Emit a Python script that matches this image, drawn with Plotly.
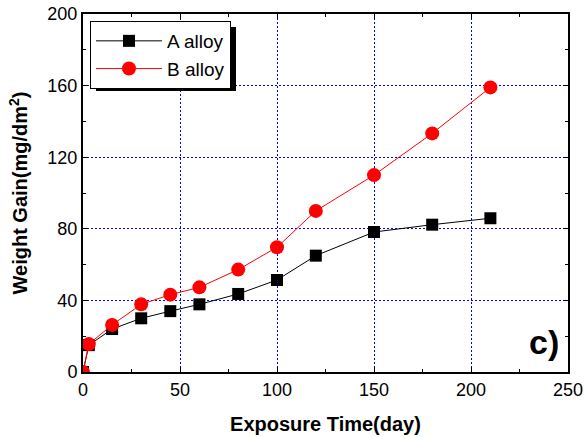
import plotly.graph_objects as go

days = [0, 3, 15, 30, 45, 60, 80, 100, 120, 150, 180, 210]
a_alloy = [0, 15, 24, 30, 34, 37.8, 43.6, 51.4, 65, 78.2, 82.3, 85.9]
b_alloy = [0, 15.6, 26.3, 37.8, 43.2, 47.3, 57.2, 69.7, 90, 110, 133.3, 159]

x_ticks = [0, 50, 100, 150, 200, 250]
y_ticks = [0, 40, 80, 120, 160, 200]

FONT = "Liberation Sans, Arial"

fig = go.Figure()
fig.add_trace(go.Scatter(x=days, y=a_alloy, mode="lines+markers", name="A alloy",
                         line=dict(color="black", width=1),
                         marker=dict(symbol="square", size=12, color="black")))
fig.add_trace(go.Scatter(x=days, y=b_alloy, mode="lines+markers", name="B alloy",
                         line=dict(color="red", width=1),
                         marker=dict(symbol="circle", size=14, color="red")))

axis_common = dict(showline=True, linecolor="black", linewidth=2, mirror="ticks",
                   ticks="inside", ticklen=5, tickcolor="black", tickwidth=1,
                   showgrid=True, gridcolor="#0000ff", griddash="2px,2px", gridwidth=1,
                   zeroline=False, automargin=False,
                   tickfont=dict(family=FONT, size=18, color="black"))

fig.update_xaxes(range=[0, 250], tickvals=x_ticks,
                 minor=dict(tickvals=[25, 75, 125, 175, 225], ticks="inside", ticklen=3,
                            tickcolor="black", showgrid=False),
                 title=dict(text="<b>Exposure Time(day)</b>", standoff=18,
                            font=dict(family=FONT, size=20, color="black")),
                 **axis_common)
fig.update_yaxes(range=[0, 200], tickvals=y_ticks,
                 minor=dict(tickvals=[20, 60, 100, 140, 180], ticks="inside", ticklen=3,
                            tickcolor="black", showgrid=False),
                 title=dict(text="<b>Weight Gain(mg/dm<sup>2</sup>)</b>", standoff=14,
                            font=dict(family=FONT, size=20, color="black")),
                 **axis_common)

# legend shadow
fig.add_shape(type="rect", xref="paper", yref="paper",
              x0=(96 - 83) / 485, x1=(236 - 83) / 485,
              y0=(372 - 91) / 358, y1=(372 - 27) / 358,
              fillcolor="black", line=dict(width=0), layer="above")

fig.add_annotation(x=0.985, y=0.025, xref="paper", yref="paper", text="<b>c)</b>",
                   showarrow=False, xanchor="right", yanchor="bottom",
                   font=dict(family=FONT, size=34, color="black"))

fig.update_layout(
    width=585, height=437,
    margin=dict(l=83, r=17, t=14, b=65),
    plot_bgcolor="white", paper_bgcolor="white",
    showlegend=True,
    legend=dict(x=(90 - 83) / 485, y=(372 - 21) / 358, xanchor="left", yanchor="top",
                bgcolor="white", bordercolor="black", borderwidth=1,
                font=dict(family=FONT, size=19, color="black"),
                tracegroupgap=0, itemwidth=66),
    font=dict(family=FONT, color="black"),
)

fig.write_html("out.html", post_script="document.body.style.margin='0';",
               config={"displayModeBar": False})
